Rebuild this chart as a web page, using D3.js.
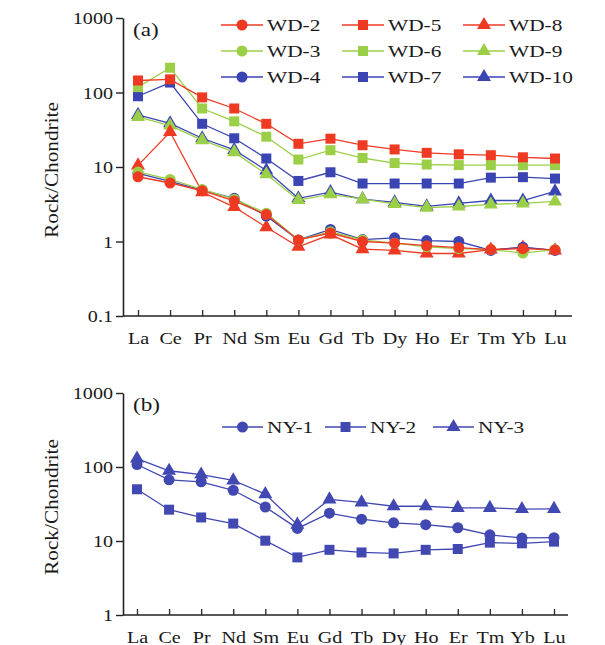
<!doctype html>
<html>
<head>
<meta charset="utf-8">
<style>
  body { margin: 0; background: #fff; }
  text { font-family: "Liberation Serif", "Times New Roman", serif; fill: #1a1a1a; }
</style>
<script src="https://d3js.org/d3.v7.min.js"></script>
</head>
<body>
<svg width="605" height="645"></svg>
<script>
// REE elements (x categories)
var elements = ["La","Ce","Pr","Nd","Sm","Eu","Gd","Tb","Dy","Ho","Er","Tm","Yb","Lu"];

// panel (a) series, chondrite-normalised
var wd2  = [7.4, 6.1, 4.8, 3.5, 2.3, 1.05, 1.3, 1.0, 0.95, 0.88, 0.83, 0.78, 0.8, 0.77];
var wd3  = [8.6, 6.8, 5.0, 3.7, 2.4, 1.05, 1.35, 1.05, 0.95, 0.85, 0.8, 0.78, 0.7, 0.78];
var wd4  = [8.2, 6.4, 4.9, 3.8, 2.2, 1.05, 1.45, 1.06, 1.12, 1.03, 1.0, 0.76, 0.84, 0.76];
var wd5  = [145, 150, 86, 61, 38, 20.5, 24, 19.6, 17.2, 15.5, 14.8, 14.4, 13.5, 13.0];
var wd6  = [118, 215, 61, 41, 25.5, 12.6, 16.8, 13.2, 11.3, 10.8, 10.6, 10.6, 10.6, 10.6];
var wd7  = [89, 136, 38, 24.3, 13, 6.5, 8.5, 6.0, 6.0, 6.0, 6.0, 7.2, 7.3, 7.0];
var wd8  = [10.5, 29.5, 4.6, 2.9, 1.55, 0.85, 1.24, 0.79, 0.76, 0.69, 0.69, 0.78, 0.83, 0.76];
var wd9  = [47, 36, 22.9, 15.8, 8.0, 3.6, 4.3, 3.7, 3.2, 2.85, 2.95, 3.15, 3.25, 3.45];
var wd10 = [50, 38.6, 24.3, 17.0, 9.0, 3.8, 4.6, 3.7, 3.35, 2.96, 3.25, 3.55, 3.55, 4.7];

// panel (b) series
var ny1 = [108, 67, 63, 48.5, 28.8, 14.8, 23.8, 19.7, 17.6, 16.6, 15.1, 12.1, 11.0, 11.1];
var ny2 = [50, 26.5, 20.8, 17.2, 10.1, 6.0, 7.6, 7.0, 6.8, 7.6, 7.8, 9.5, 9.3, 9.8];
var ny3 = [130, 89, 79, 66, 43, 16.6, 36.5, 33.3, 29.5, 29.5, 28, 28, 27, 27.2];

var yTicksA = [0.1, 1, 10, 100, 1000];
var yTicksB = [1, 10, 100, 1000];

var RED = "#ee3a23", GREEN = "#9ccf48", BLUE = "#3a44b3", NYBLUE = "#4148b2";
var SX = 1.22; // original typeface is set wide

var seriesA = [
  {name: "WD-2",  values: wd2,  color: RED,   shape: "circle"},
  {name: "WD-3",  values: wd3,  color: GREEN, shape: "circle"},
  {name: "WD-4",  values: wd4,  color: BLUE,  shape: "circle"},
  {name: "WD-5",  values: wd5,  color: RED,   shape: "square"},
  {name: "WD-6",  values: wd6,  color: GREEN, shape: "square"},
  {name: "WD-7",  values: wd7,  color: BLUE,  shape: "square"},
  {name: "WD-8",  values: wd8,  color: RED,   shape: "triangle"},
  {name: "WD-9",  values: wd9,  color: GREEN, shape: "triangle"},
  {name: "WD-10", values: wd10, color: BLUE,  shape: "triangle"}
];
var seriesB = [
  {name: "NY-1", values: ny1, color: NYBLUE, shape: "circle"},
  {name: "NY-2", values: ny2, color: NYBLUE, shape: "square"},
  {name: "NY-3", values: ny3, color: NYBLUE, shape: "triangle"}
];

var svg = d3.select("svg");

function symbolPath(shape) {
  if (shape === "circle") return d3.symbol().type(d3.symbolCircle).size(95)();
  if (shape === "square") return d3.symbol().type(d3.symbolSquare).size(100)();
  return d3.symbol().type(d3.symbolTriangle).size(85)();
}

function wideText(sel, x, y, str, size, anchor, rot, sx) {
  return sel.append("text")
    .attr("transform", "translate(" + x + "," + y + ")" + (rot ? " rotate(" + rot + ")" : "") + " scale(" + (sx || SX) + ",1)")
    .attr("text-anchor", anchor || "start")
    .attr("font-size", size)
    .text(str);
}

function drawPanel(p) {
  var x = d3.scalePoint().domain(elements).range([p.x0, p.x1]);
  var y = d3.scaleLog().domain(p.yDomain).range([p.yBottom, p.yTop]);

  // y axis
  var ya = svg.append("g")
    .attr("transform", "translate(" + p.axisX + ",0)")
    .call(d3.axisLeft(y).tickValues(p.yTicks).tickFormat(function(d) { return d; })
      .tickSize(7).tickSizeOuter(0));
  ya.select(".domain").attr("stroke", "#222").attr("stroke-width", 1.6);
  ya.selectAll(".tick line").attr("stroke", "#222").attr("stroke-width", 1.4);
  ya.selectAll(".tick text")
    .attr("x", -10 / SX).attr("dy", "0.34em")
    .attr("transform", "scale(" + SX + ",1)")
    .attr("font-size", 16.5).attr("font-family", null).attr("fill", "#1a1a1a");

  // x axis, ticks point inward
  var xa = svg.append("g")
    .attr("transform", "translate(0," + p.yBottom + ")")
    .call(d3.axisBottom(x).tickSizeInner(-6).tickSizeOuter(0).tickPadding(16));
  xa.select(".domain").remove();
  xa.selectAll(".tick line").attr("stroke", "#333").attr("stroke-width", 1.4);
  xa.selectAll(".tick text")
    .attr("transform", "scale(" + SX + ",1)")
    .attr("font-size", 16.5).attr("font-family", null).attr("fill", "#1a1a1a");
  xa.append("line")
    .attr("x1", p.axisX).attr("x2", p.axisEnd)
    .attr("stroke", "#222").attr("stroke-width", 1.6);

  wideText(svg, 58, (p.yTop + p.yBottom) / 2 + 3, "Rock/Chondrite", 19, "middle", -90, 1.12);
  wideText(svg, p.axisX + 10, p.yTop + 18, p.label, 19, "start");

  var line = d3.line()
    .x(function(d, i) { return x(elements[i]); })
    .y(function(d) { return y(d); });

  var order = p.series.slice().reverse();
  order.forEach(function(s) {
    svg.append("path")
      .attr("d", line(s.values))
      .attr("fill", "none").attr("stroke", s.color).attr("stroke-width", 1.3);
    svg.selectAll(null)
      .data(s.values)
      .enter().append("path")
      .attr("d", symbolPath(s.shape))
      .attr("transform", function(d, i) { return "translate(" + x(elements[i]) + "," + y(d) + ")"; })
      .attr("fill", s.color);
  });

  // legend
  p.series.forEach(function(s, i) {
    var col = Math.floor(i / p.rows), row = i % p.rows;
    var lx = p.legX[col], ly = p.legY + row * p.legDy;
    var lg = svg.append("g");
    lg.append("line")
      .attr("x1", lx).attr("x2", lx + p.legW)
      .attr("y1", ly).attr("y2", ly)
      .attr("stroke", s.color).attr("stroke-width", 1.3);
    lg.append("path")
      .attr("d", symbolPath(s.shape))
      .attr("transform", "translate(" + (lx + p.legW / 2) + "," + ly + ")")
      .attr("fill", s.color);
    wideText(lg, lx + p.legW + 4, ly + 6, s.name, 17.5, "start");
  });
}

drawPanel({
  series: seriesA, label: "(a)",
  x0: 138, x1: 555, axisX: 123, axisEnd: 572,
  yDomain: [0.1, 1000], yTicks: yTicksA, yBottom: 316, yTop: 18,
  rows: 3, legX: [221, 342, 463], legY: 25, legDy: 26, legW: 42
});

drawPanel({
  series: seriesB, label: "(b)",
  x0: 137, x1: 554, axisX: 123, axisEnd: 568,
  yDomain: [1, 1000], yTicks: yTicksB, yBottom: 615, yTop: 393,
  rows: 1, legX: [222, 325, 433], legY: 427, legDy: 0, legW: 41
});
</script>
</body>
</html>
